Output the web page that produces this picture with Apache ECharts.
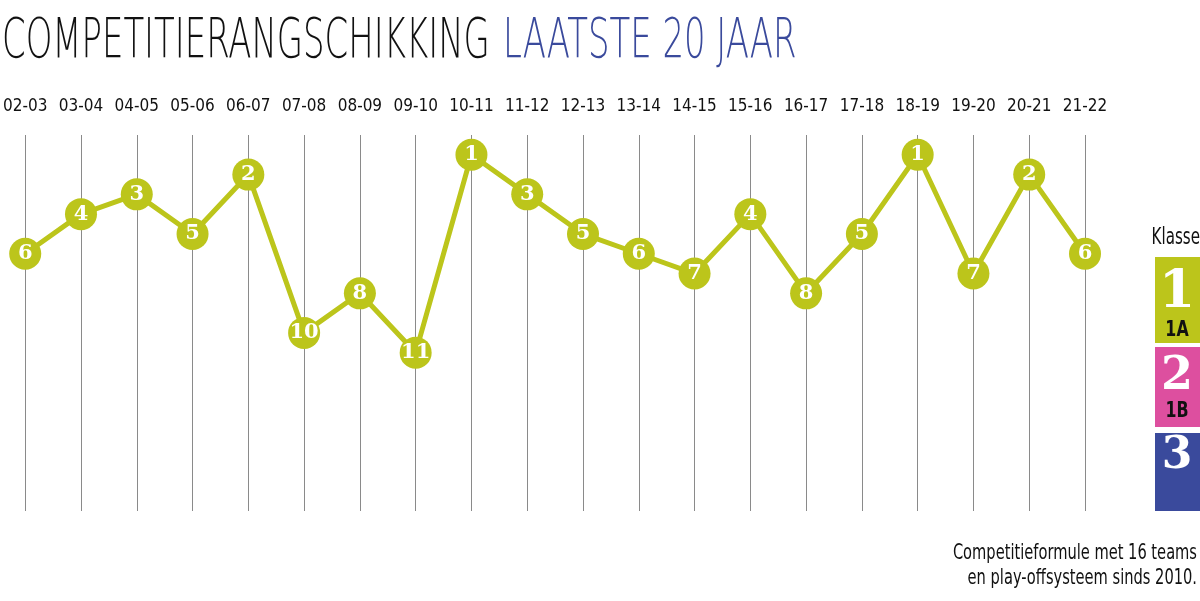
<!DOCTYPE html>
<html>
<head>
<meta charset="utf-8">
<script src="https://cdn.jsdelivr.net/npm/echarts@6/dist/echarts.min.js"></script>
<style>
  html, body { margin: 0; padding: 0; background: #fff; }
  #main { width: 1200px; height: 601px; }
</style>
</head>
<body>
<div id="main"></div>
<script>
// seizoenen en eindrangschikking
var seasons = ['02-03', '03-04', '04-05', '05-06', '06-07', '07-08', '08-09', '09-10', '10-11', '11-12',
               '12-13', '13-14', '14-15', '15-16', '16-17', '17-18', '18-19', '19-20', '20-21', '21-22'];
var ranks = [6, 4, 3, 5, 2, 10, 8, 11, 1, 3, 5, 6, 7, 4, 8, 5, 1, 7, 2, 6];

var lime = '#bcc51b',
    pink = '#dd4f9f',
    blue = '#3a4a9c',
    cond = '"DejaVu Sans Condensed", "Liberation Sans Narrow", sans-serif',
    serif = '"DejaVu Serif", "Liberation Serif", serif';

var myChart = echarts.init(document.getElementById('main'));

var option = {
    backgroundColor: '#fff',
    animation: false,
    grid: { left: 23, right: 115, top: 135, bottom: 90 },
    xAxis: {
        type: 'category',
        position: 'top',
        boundaryGap: false,
        data: seasons,
        axisLine: { show: false },
        axisTick: { show: false },
        axisLabel: { interval: 0, margin: 20, color: '#111', fontFamily: cond, fontSize: 17 },
        splitLine: { show: true, interval: 0, lineStyle: { color: '#8a8a8a', width: 1 } }
    },
    yAxis: {
        type: 'value',
        inverse: true,
        min: 0,
        max: 19,
        show: false
    },
    series: [{
        type: 'line',
        data: ranks,
        symbol: 'circle',
        symbolSize: 32,
        lineStyle: { color: lime, width: 5 },
        itemStyle: { color: lime },
        label: {
            show: true,
            position: 'inside',
            color: '#fff',
            fontFamily: serif,
            fontWeight: 'bold',
            fontSize: 21
        }
    }],
    graphic: [
        // titel
        {
            type: 'text', left: 2, top: 14, scaleX: 0.605,
            style: { text: 'COMPETITIERANGSCHIKKING', fill: '#111', font: '200 56px "DejaVu Sans", sans-serif' }
        },
        {
            type: 'text', left: 503, top: 14, scaleX: 0.605,
            style: { text: 'LAATSTE 20 JAAR', fill: blue, font: '200 56px "DejaVu Sans", sans-serif' }
        },
        // legende
        {
            type: 'text', x: 1200, y: 238, scaleX: 0.73,
            style: { text: 'Klasse', fill: '#111', font: '23px ' + cond, align: 'right', verticalAlign: 'middle' }
        },
        { type: 'rect', shape: { x: 1155, y: 257, width: 45, height: 86 }, style: { fill: lime } },
        {
            type: 'text', x: 1177, y: 293,
            style: { text: '1', fill: '#fff', font: 'bold 52px ' + serif, align: 'center', verticalAlign: 'middle' }
        },
        {
            type: 'text', x: 1177, y: 330, scaleX: 0.8,
            style: { text: '1A', fill: '#111', font: 'bold 22px ' + cond, align: 'center', verticalAlign: 'middle' }
        },
        { type: 'rect', shape: { x: 1155, y: 347, width: 45, height: 80 }, style: { fill: pink } },
        {
            type: 'text', x: 1177, y: 377,
            style: { text: '2', fill: '#fff', font: 'bold 46px ' + serif, align: 'center', verticalAlign: 'middle' }
        },
        {
            type: 'text', x: 1177, y: 411, scaleX: 0.8,
            style: { text: '1B', fill: '#111', font: 'bold 22px ' + cond, align: 'center', verticalAlign: 'middle' }
        },
        { type: 'rect', shape: { x: 1155, y: 433, width: 45, height: 78 }, style: { fill: blue } },
        {
            type: 'text', x: 1177, y: 457,
            style: { text: '3', fill: '#fff', font: 'bold 44px ' + serif, align: 'center', verticalAlign: 'middle' }
        },
        // voetnoot
        {
            type: 'text', x: 1197, y: 553, scaleX: 0.74,
            style: { text: 'Competitieformule met 16 teams', fill: '#111', font: '22px ' + cond,
                     align: 'right', verticalAlign: 'middle' }
        },
        {
            type: 'text', x: 1197, y: 578, scaleX: 0.74,
            style: { text: 'en play-offsysteem sinds 2010.', fill: '#111', font: '22px ' + cond,
                     align: 'right', verticalAlign: 'middle' }
        }
    ]
};

myChart.setOption(option);
</script>
</body>
</html>
